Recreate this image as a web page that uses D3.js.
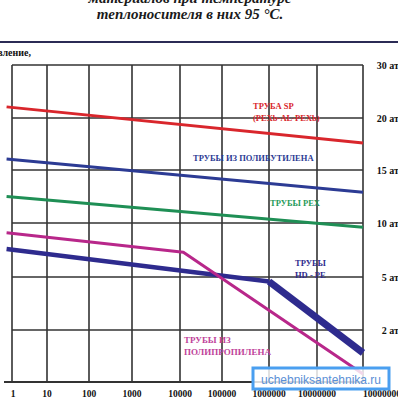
<!DOCTYPE html>
<html><head><meta charset="utf-8">
<script src="https://cdn.jsdelivr.net/npm/d3@7"></script>
<style>
html,body{margin:0;padding:0;background:#fff;overflow:hidden}
svg{display:block}
text{font-family:"Liberation Serif","DejaVu Serif",serif;font-weight:bold}
</style></head>
<body>
<script>
// ---- data ----
const titleLines = ["материалов при температуре", "теплоносителя в них 95 °С."];
const yAxisTitle = "Давление,";
const xTicks = [1, 10, 100, 1000, 10000, 100000, 1000000, 10000000, 100000000];
const xTickLabels = ["1", "10", "100", "1000", "10000", "100000", "1000000", "10000000", "100000000"];
const pressureTicks = [30, 20, 15, 10, 5, 2];
const pressureLabels = ["30 ат", "20 ат", "15 ат", "10 ат", "5 ат", "2 ат"];

// hours (x) and pressure, атм (y)
const spTime = [0.7, 100000000];
const spPressure = [22.1, 17.6];
const pbTime = [0.7, 100000000];
const pbPressure = [16.05, 12.9];
const pexTime = [0.7, 100000000];
const pexPressure = [12.5, 9.6];
const ppTime = [0.7, 12000, 100000000];
const ppPressure = [9.1, 7.3, 0.31];
const hdTime = [0.7, 1000000, 100000000];
const hdPressure = [7.6, 4.75, 1.12];

const seriesNames = ["ТРУБА SP", "ТРУБЫ ИЗ ПОЛИБУТИЛЕНА", "ТРУБЫ PEX", "ТРУБЫ ИЗ ПОЛИПРОПИЛЕНА", "ТРУБЫ HD - PE"];
const watermark = "uchebniksantehnika.ru";

// ---- layout ----
const W = 398, H = 400;
const svg = d3.select("body").append("svg").attr("width", W).attr("height", H);

// hand-drawn log axis: decades are not equally spaced in the original
const xDec = d3.scaleLinear().domain(d3.range(9)).range([12, 47, 89, 132, 180, 222, 269, 317, 363]);
const x = t => xDec(Math.log10(t));
const y = d3.scaleLinear().domain([0, 2, 5, 10, 15, 20, 30]).range([382, 330, 277, 223, 170, 118, 65]);

// title
svg.selectAll("text.title").data(titleLines).enter().append("text")
  .attr("class", "title")
  .attr("x", 190).attr("y", (d, i) => 3 + i * 16)
  .attr("text-anchor", "middle")
  .style("font-style", "italic").style("font-size", "15px").attr("fill", "#1a1a1a")
  .text(d => d);

// rule
svg.append("line").attr("x1", 0).attr("x2", W).attr("y1", 42).attr("y2", 42)
  .attr("stroke", "#2b2b55").attr("stroke-width", 2);

// y axis title (cut at left edge)
svg.append("text").attr("x", 31).attr("y", 56).attr("text-anchor", "end")
  .style("font-size", "10px").attr("fill", "#111").text(yAxisTitle);

// grid
const g = svg.append("g");
g.selectAll("line.v").data(xTicks).enter().append("line")
  .attr("x1", d => x(d)).attr("x2", d => x(d))
  .attr("y1", y(30)).attr("y2", y(0))
  .attr("stroke", "#333").attr("stroke-width", 1.6);
g.selectAll("line.h").data([30].concat(pressureTicks.slice(1), [0])).enter().append("line")
  .attr("x1", d => d === 0 ? 4 : x(1)).attr("x2", x(1e8))
  .attr("y1", d => y(d)).attr("y2", d => y(d))
  .attr("stroke", "#333").attr("stroke-width", d => d === 0 ? 2 : 1.6);

// x tick labels
svg.selectAll("text.xt").data(xTicks).enter().append("text")
  .attr("x", (d, i) => x(d) + (i === 0 ? 1 : 0))
  .attr("y", 397).attr("text-anchor", (d, i) => i === 8 ? "start" : "middle")
  .style("font-size", "9.5px").attr("fill", "#111")
  .text((d, i) => xTickLabels[i]);

// right pressure labels
svg.selectAll("text.yt").data(pressureTicks).enter().append("text")
  .attr("x", 399).attr("y", d => y(d) + 4).attr("text-anchor", "end")
  .style("font-size", "10px").attr("fill", "#111")
  .text((d, i) => pressureLabels[i]);

const line = d3.line().x(d => x(d[0])).y(d => y(d[1]));
const zip = (a, b) => a.map((v, i) => [v, b[i]]);

function drawSeries(t, p, color, width) {
  svg.append("path").datum(zip(t, p)).attr("d", line)
    .attr("fill", "none").attr("stroke", color).attr("stroke-width", width)
    .attr("stroke-linejoin", "round").attr("stroke-linecap", "butt");
}
drawSeries(spTime, spPressure, "#d9262c", 3);
drawSeries(pbTime, pbPressure, "#2c3b94", 3);
drawSeries(pexTime, pexPressure, "#1f8f55", 3);
drawSeries(hdTime.slice(0, 2), hdPressure.slice(0, 2), "#2e2b8e", 4.5);
drawSeries(hdTime.slice(1), hdPressure.slice(1), "#2e2b8e", 7);
drawSeries(ppTime, ppPressure, "#b8278a", 3);

// series labels
function label(lines, color, x0, y0, size) {
  const t = svg.append("text").attr("fill", color).style("font-size", size + "px");
  lines.forEach((s, i) => t.append("tspan").attr("x", x0).attr("y", y0 + i * 12).text(s));
}
label(["ТРУБА SP", "(PEXb-AL-PEXb)"], "#d9262c", 253, 109, 8.5);
label(["ТРУБЫ ИЗ ПОЛИБУТИЛЕНА"], "#2c3b94", 193, 161, 8.5);
label(["ТРУБЫ PEX"], "#1f9a5a", 270, 206, 8.5);
label(["ТРУБЫ", "HD - PE"], "#2e2b8e", 295, 266, 8.5);
label(["ТРУБЫ ИЗ", "ПОЛИПРОПИЛЕНА"], "#c0429a", 184, 343, 9);

// watermark
svg.append("rect").attr("x", 253).attr("y", 368).attr("width", 136).attr("height", 21)
  .attr("fill", "rgba(255,255,255,0.82)").attr("stroke", "#4a9ff0").attr("stroke-width", 3);
svg.append("text").attr("x", 321).attr("y", 384).attr("text-anchor", "middle")
  .style("font-family", "'Liberation Sans',Arial,sans-serif").style("font-weight", "normal")
  .style("font-size", "12px").attr("fill", "#5b8fd6").text(watermark);
</script>
</body></html>
